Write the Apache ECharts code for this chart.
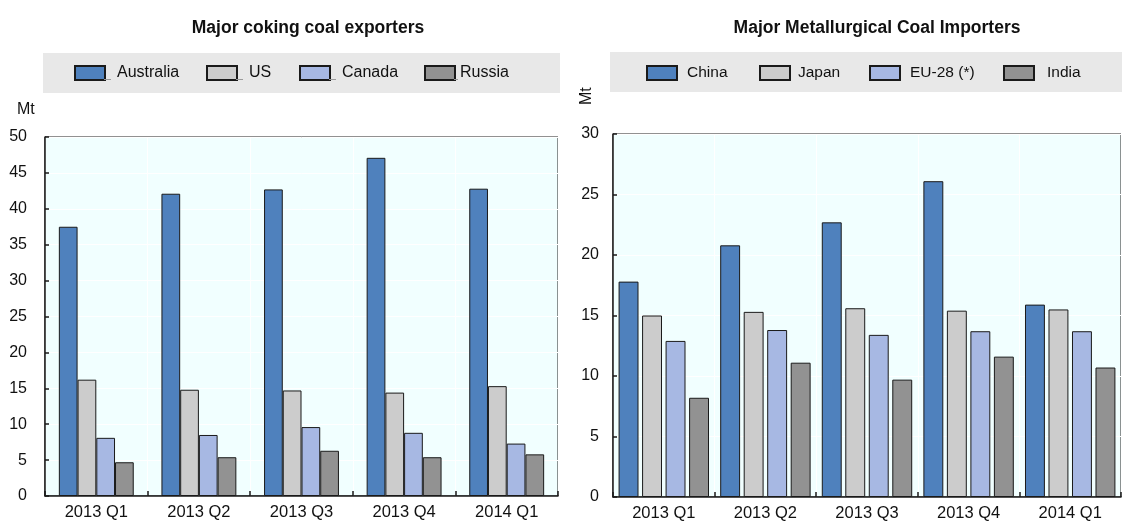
<!DOCTYPE html>
<html>
<head>
<meta charset="utf-8">
<title>Coking coal trade</title>
<script src="https://cdn.jsdelivr.net/npm/echarts@6/dist/echarts.min.js"></script>
<style>
  html, body { margin: 0; padding: 0; background: #ffffff; }
  #chart { width: 1122px; height: 522px; }
</style>
</head>
<body>
<div id="chart"></div>
<script>
// Quarterly volumes, million tonnes
const quarters = ['2013 Q1', '2013 Q2', '2013 Q3', '2013 Q4', '2014 Q1'];

const exporterNames = ['Australia', 'US', 'Canada', 'Russia'];
const australia = [37.5, 42.1, 42.7, 47.1, 42.8];
const us        = [16.2, 14.8, 14.7, 14.4, 15.3];
const canada    = [8.1, 8.5, 9.6, 8.8, 7.3];
const russia    = [4.7, 5.4, 6.3, 5.4, 5.8];

const importerNames = ['China', 'Japan', 'EU-28 (*)', 'India'];
const china = [17.8, 20.8, 22.7, 26.1, 15.9];
const japan = [15.0, 15.3, 15.6, 15.4, 15.5];
const eu28  = [12.9, 13.8, 13.4, 13.7, 13.7];
const india = [8.2, 11.1, 9.7, 11.6, 10.7];

const leftTicks = { min: 0, max: 50, interval: 5 };
const rightTicks = { min: 0, max: 30, interval: 5 };

const palette = ['#4f81bd', '#cccccc', '#a7b8e3', '#929292'];
const FONT = "'Liberation Sans', Arial, sans-serif";
const TEXT = '#111111';

// legend key layout: left edge of each swatch, gap before its label, leader stroke length
const exporterKeys = [
  { left: 74, textGap: 7, leader: 7 }, { left: 206, textGap: 7, leader: 7 },
  { left: 299, textGap: 7, leader: 7 }, { left: 424, textGap: 0, leader: 4 }
];
const importerKeys = [
  { left: 646, textGap: 5 }, { left: 759, textGap: 3 },
  { left: 869, textGap: 5 }, { left: 1003, textGap: 8 }
];
const KEY_W = 30, KEY_H = 14, KEY_TOP = 66;

const chart = echarts.init(document.getElementById('chart'), null, { renderer: 'canvas' });

function barSeries(name, data, idx, axisIdx, gapCat, gapBar) {
  return {
    type: 'bar',
    name: name,
    data: data,
    xAxisIndex: axisIdx,
    yAxisIndex: axisIdx,
    barGap: gapBar,
    barCategoryGap: gapCat,
    itemStyle: { color: palette[idx], borderColor: '#1a1a1a', borderWidth: 1 },
    emphasis: { disabled: true },
    animation: false
  };
}

const axisLineStyle = { show: true, lineStyle: { color: '#1a1a1a', width: 1.5 } };

function xAxisDef(gridIndex) {
  return {
    type: 'category',
    gridIndex: gridIndex,
    data: quarters,
    axisLine: axisLineStyle,
    axisTick: { show: true, inside: true, length: 5, lineStyle: { color: '#1a1a1a', width: 1.5 } },
    axisLabel: { color: TEXT, fontFamily: FONT, fontSize: 16.5, margin: 8 },
    splitLine: { show: true, lineStyle: { color: '#ffffff', width: 1 } }
  };
}

function yAxisDef(gridIndex, ticks, margin) {
  return {
    type: 'value',
    gridIndex: gridIndex,
    min: ticks.min,
    max: ticks.max,
    interval: ticks.interval,
    axisLine: axisLineStyle,
    axisTick: { show: true, inside: true, length: 4, lineStyle: { color: '#1a1a1a', width: 1.5 } },
    axisLabel: { color: TEXT, fontFamily: FONT, fontSize: 16, margin: margin },
    splitLine: { show: true, lineStyle: { color: '#ffffff', width: 1 } }
  };
}

function legendDefs(names, keys, fontSize) {
  return names.map((n, i) => ({
    data: [n],
    left: keys[i].left,
    top: KEY_TOP - 1,
    itemWidth: KEY_W,
    itemHeight: KEY_H,
    icon: 'rect',
    padding: 0,
    selectedMode: false,
    textStyle: { color: TEXT, fontFamily: FONT, fontSize: fontSize, padding: [0, 0, 0, keys[i].textGap] }
  }));
}

// small leader strokes trailing the exporter swatches
const leaders = exporterKeys.map(k => ({
  type: 'line',
  shape: { x1: k.left + KEY_W, y1: KEY_TOP + KEY_H - 0.5, x2: k.left + KEY_W + k.leader, y2: KEY_TOP + KEY_H - 0.5 },
  style: { stroke: '#9a9a9a', lineWidth: 1 },
  z: 10
}));

const option = {
  backgroundColor: '#ffffff',
  animation: false,
  title: [
    { text: 'Major coking coal exporters', left: 303, top: 14, textAlign: 'center',
      textStyle: { fontFamily: FONT, fontWeight: 'bold', fontSize: 17.5, color: TEXT } },
    { text: 'Major Metallurgical Coal Importers', left: 872, top: 14, textAlign: 'center',
      textStyle: { fontFamily: FONT, fontWeight: 'bold', fontSize: 17.5, color: TEXT } }
  ],
  graphic: [
    { type: 'rect', shape: { x: 43, y: 53, width: 517, height: 40 }, style: { fill: '#e8e8e8' }, z: -1 },
    { type: 'rect', shape: { x: 610, y: 52, width: 512, height: 40 }, style: { fill: '#e8e8e8' }, z: -1 },
    { type: 'text', left: 17, top: 102, style: { text: 'Mt', font: '16px ' + FONT, fill: TEXT } },
    { type: 'text', x: 579, y: 105, rotation: Math.PI / 2,
      style: { text: 'Mt', font: '16px ' + FONT, fill: TEXT } }
  ].concat(leaders),
  legend: legendDefs(exporterNames, exporterKeys, 16).concat(legendDefs(importerNames, importerKeys, 15.5)),
  grid: [
    { left: 45, top: 137, width: 513, height: 359, show: true,
      backgroundColor: '#f1ffff', borderColor: '#222', borderWidth: 1 },
    { left: 613, top: 134, width: 508, height: 364, show: true,
      backgroundColor: '#f1ffff', borderColor: '#222', borderWidth: 1 }
  ],
  xAxis: [xAxisDef(0), xAxisDef(1)],
  yAxis: [yAxisDef(0, leftTicks, 18), yAxisDef(1, rightTicks, 14)],
  series: [
    barSeries(exporterNames[0], australia, 0, 0, '27%', '0%'),
    barSeries(exporterNames[1], us, 1, 0, '27%', '0%'),
    barSeries(exporterNames[2], canada, 2, 0, '27%', '0%'),
    barSeries(exporterNames[3], russia, 3, 0, '27%', '0%'),
    barSeries(importerNames[0], china, 0, 1, '11%', '18%'),
    barSeries(importerNames[1], japan, 1, 1, '11%', '18%'),
    barSeries(importerNames[2], eu28, 2, 1, '11%', '18%'),
    barSeries(importerNames[3], india, 3, 1, '11%', '18%')
  ]
};

chart.setOption(option);
</script>
</body>
</html>
